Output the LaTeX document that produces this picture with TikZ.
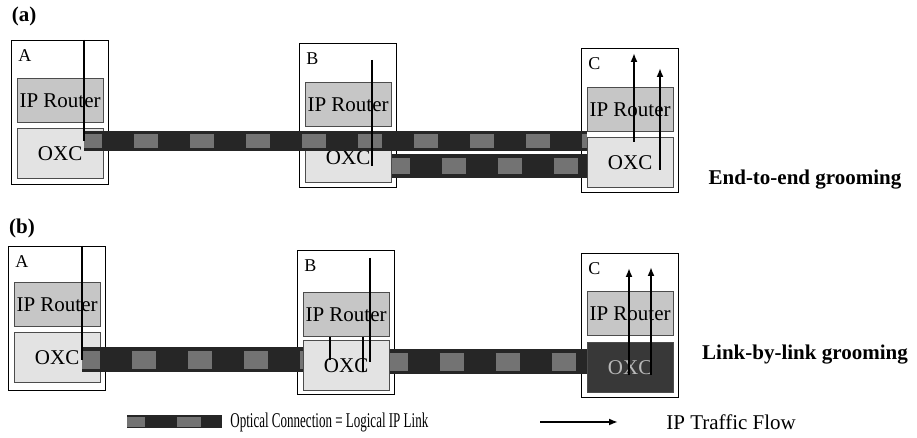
\documentclass[tikz,border=0pt]{standalone}
\usepackage{fontspec}
\setmainfont{Liberation Serif}
\usepackage{graphicx}
\usepackage{tikz}
\usetikzlibrary{positioning}
\usetikzlibrary{calc}
\usetikzlibrary{arrows.meta}

\tikzset{
    site/.style={draw, line width=0.6pt, fill=white, anchor=north west, minimum width=48.5pt, minimum height=72pt, inner sep=0pt},
    router/.style={draw=black!70, line width=0.5pt, fill=gray!45, minimum width=43pt, minimum height=22pt, inner sep=0pt, font=\fontsize{10.5}{12}\selectfont},
    oxc/.style={draw=black!70, line width=0.5pt, fill=gray!22, minimum width=43pt, minimum height=25pt, inner sep=0pt, font=\fontsize{10.5}{12}\selectfont},
    sitename/.style={anchor=north west, inner sep=0pt, font=\fontsize{9}{10}\selectfont},
    panel/.style={inner sep=0pt, font=\fontsize{10.5}{12}\selectfont\bfseries},
    keytext/.style={inner sep=0pt, font=\fontsize{10.5}{12}\selectfont},
    optical/.style={line width=#1, draw=black!85, postaction={draw=black!55, line width=0.7*#1, dash pattern=on 12pt off 16pt, dash phase=3pt}},
    optical/.default=10pt,
    flow/.style={line width=1.2pt},
    thinflow/.style={line width=0.8pt},
    flowtip/.style={flow, -{Latex[length=4.5pt, width=3.5pt]}},
}

\begin{document}
\begin{tikzpicture}[x=0.5pt, y=-0.5pt]
    \useasboundingbox (0,0) rectangle (917,438);

    % (a) end-to-end
    \node[panel] (pa) at (24,16) {(a)};

    \node[site] (A1) at (11,40) {};
    \node[sitename] (A1n) at ([shift={(3.5pt,-4.5pt)}]A1.north west) {A};
    \node[router, below=19pt of A1.north] (A1r) {IP Router};
    \node[oxc, below=2.5pt of A1r] (A1o) {OXC};

    \node[site] (B1) at (299,43) {};
    \node[sitename] (B1n) at ([shift={(3.5pt,-4.5pt)}]B1.north west) {B};
    \node[router, below=19.5pt of B1.north] (B1r) {IP Router};
    \node[oxc, below=2.5pt of B1r] (B1o) {OXC};

    \node[site] (C1) at (581,48) {};
    \node[sitename] (C1n) at ([shift={(3.5pt,-4.5pt)}]C1.north west) {C};
    \node[router, below=19.5pt of C1.north] (C1r) {IP Router};
    \node[oxc, below=2.5pt of C1r] (C1o) {OXC};

    \coordinate (A1turn) at (84,141);
    \coordinate (B1top) at (372,60);
    \coordinate (B1turn) at (372,166);

    \draw[optical] (A1turn) -- (A1turn -| C1o.west);
    \draw[optical=12pt] (B1o.east |- B1turn) -- (B1turn -| C1o.west);

    \draw[flow] (A1turn |- A1.north) -- (A1turn);
    \draw[flow] (B1top) -- (B1turn);
    \draw[flowtip] (634,142) -- (634,53);
    \draw[flowtip] (660,170) -- (660,68);

    \node[panel] (ete) at (805,180) {End-to-end grooming};

    % (b) link-by-link
    \node[panel] (pb) at (22,228) {(b)};

    \node[site] (A2) at (8,246) {};
    \node[sitename] (A2n) at ([shift={(3.5pt,-4.5pt)}]A2.north west) {A};
    \node[router, below=18pt of A2.north] (A2r) {IP Router};
    \node[oxc, below=2.5pt of A2r] (A2o) {OXC};

    \node[site] (B2) at (297,250) {};
    \node[sitename] (B2n) at ([shift={(3.5pt,-4.5pt)}]B2.north west) {B};
    \node[router, below=21pt of B2.north] (B2r) {IP Router};
    \node[oxc, below=1.5pt of B2r] (B2o) {OXC};

    \node[site] (C2) at (581,253) {};
    \node[sitename] (C2n) at ([shift={(3.5pt,-4.5pt)}]C2.north west) {C};
    \node[router, below=19pt of C2.north] (C2r) {IP Router};
    \node[oxc, fill=black!78, text=gray!55, below=3pt of C2r] (C2o) {OXC};

    \coordinate (A2turn) at (82,360);
    \coordinate (B2top) at (370,258);
    \coordinate (B2turn) at (370,362);
    \coordinate (B2hopL) at (330,360);
    \coordinate (B2hopR) at (363,372);

    \draw[optical=12.5pt] (A2turn) -- (A2turn -| B2o.west);
    \draw[optical=12.5pt] (B2o.east |- B2turn) -- (B2turn -| C2o.west);

    \draw[flow] (A2turn |- A2.north) -- (A2turn);
    \draw[flow] (B2top) -- (B2turn);
    \draw[thinflow] (B2hopL) -- (B2hopL |- B2r.south);
    \draw[thinflow] (B2hopR |- B2r.south) -- (B2hopR);
    \draw[flowtip] (629,375) -- (629,268);
    \draw[flowtip] (651,375) -- (651,267);

    \node[panel] (lbl) at (805,355) {Link-by-link grooming};

    % legend
    \coordinate (keyL) at (127,422);
    \coordinate (keyR) at (222,422);
    \coordinate (flowL) at (540,422);
    \coordinate (flowR) at (618,422);

    \draw[optical=6.5pt] (keyL) -- (keyR);
    \node[keytext, right=4pt of keyR] (keyopt) {\scalebox{0.62}[1]{Optical Connection = Logical IP Link}};
    \draw[flowtip] (flowL) -- (flowR);
    \node[keytext, right=24pt of flowR] (keyflow) {IP Traffic Flow};
\end{tikzpicture}
\end{document}
